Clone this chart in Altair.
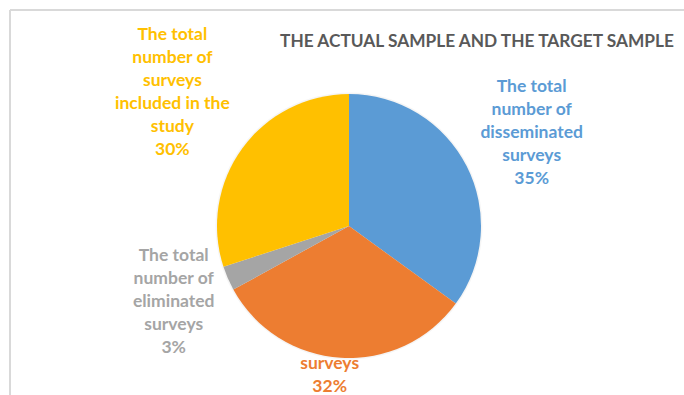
import altair as alt
import pandas as pd

# Survey counts by stage, as shares of the total
categories = ["disseminated", "received", "eliminated", "included"]
shares = [35, 32, 3, 30]
label_text = [
    ["The total", "number of", "disseminated", "surveys"],
    ["The total", "number of", "received", "surveys"],
    ["The total", "number of", "eliminated", "surveys"],
    ["The total", "number of", "surveys", "included in the", "study"],
]
colors = ["#5B9BD5", "#ED7D31", "#A5A5A5", "#FFC000"]

# label placement: (radius, dx, dy) around the slice mid-angle
label_layout = {
    "disseminated": (205, 0, 0),
    "received": (117, -12, -2),
    "eliminated": (191, 0, 0),
    "included": (222, 3, -3),
}

df = pd.DataFrame({
    "category": categories,
    "share": shares,
    "order": list(range(len(categories))),
    "lines": [lines + [f"{s}%"] for lines, s in zip(label_text, shares)],
})

color_scale = alt.Scale(domain=categories, range=colors)
theta_scale = alt.Scale(domain=[0, 100])
FONT = "Lato"
LINE_H = 23
R = 132

base = alt.Chart(df).encode(
    theta=alt.Theta("share:Q", stack=True, scale=theta_scale),
    order=alt.Order("order:Q"),
)

shadow = base.mark_arc(outerRadius=R + 1.5, color="#000000", opacity=0.04)

# labels go underneath the pie, so text falling inside a slice is covered
label_base = (
    alt.Chart(df)
    .transform_window(cum="sum(share)", sort=[alt.SortField("order")],
                      frame=[None, 0])
    .transform_calculate(mid="datum.cum - datum.share / 2")
)
labels = []
for cat, (r, dx, dy) in label_layout.items():
    n_lines = len(df.loc[df.category == cat, "lines"].iloc[0])
    # centre the whole multi-line block on its anchor point
    block_dy = dy - (n_lines - 1) * LINE_H / 2
    labels.append(
        label_base.transform_filter(alt.datum.category == cat)
        .mark_text(radius=r, dx=dx, dy=block_dy, font=FONT, fontSize=17.5,
                   fontWeight="bold", lineHeight=LINE_H, align="center",
                   baseline="middle")
        .encode(
            theta=alt.Theta("mid:Q", stack=None, scale=theta_scale),
            text="lines",
            color=alt.Color("category:N", scale=color_scale, legend=None),
        )
    )

pie = base.mark_arc(outerRadius=R).encode(
    color=alt.Color("category:N", scale=color_scale, legend=None)
)

frame_left = alt.Chart(df).mark_rule(color="#D9D9D9", strokeWidth=2).encode(
    x=alt.value(-4), y=alt.value(-47), y2=alt.value(400)
)
frame_top = alt.Chart(df).mark_rule(color="#D9D9D9", strokeWidth=2).encode(
    x=alt.value(-4), x2=alt.value(700), y=alt.value(-47)
)

chart = alt.layer(frame_left, frame_top, *labels, shadow, pie).properties(
    width=670,
    height=338,
    padding={"left": 14, "top": 57, "right": 0, "bottom": 0},
    autosize=alt.AutoSizeParams(type="none"),
    title=alt.TitleParams(
        "THE ACTUAL SAMPLE AND THE TARGET SAMPLE",
        font=FONT, fontSize=17.3, fontWeight="bold", color="#595959",
        anchor="middle", dx=128, dy=45,
    ),
).configure_view(stroke=None)

chart.save("out.html", embed_options={"renderer": "svg", "actions": False})
